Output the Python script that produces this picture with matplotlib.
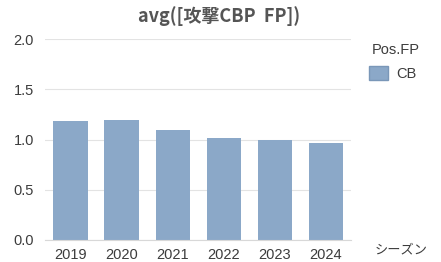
import matplotlib
matplotlib.use("Agg")
import matplotlib.pyplot as plt
from matplotlib.patches import Patch

plt.rcParams['font.family'] = ['Noto Sans CJK JP', 'DejaVu Sans']

# data
seasons = ['2019', '2020', '2021', '2022', '2023', '2024']
avg_cbp_fp = [1.18, 1.19, 1.09, 1.02, 1.00, 0.97]
y_ticks = [0.0, 0.5, 1.0, 1.5, 2.0]

bar_color = '#8BA8C8'
text_color = '#3C3C3C'
latin = 'Liberation Sans'

fig = plt.figure(figsize=(4.41, 2.62), dpi=100)
ax = fig.add_axes([0.102, 0.084, 0.695, 0.767])

x = range(len(seasons))
ax.bar(x, avg_cbp_fp, width=0.67, color=bar_color, zorder=2)

ax.set_xlim(-0.5, len(seasons) - 0.5)
ax.set_ylim(0, 2.0)
ax.set_xticks(list(x))
ax.set_xticklabels(seasons, fontfamily=latin, fontsize=10.5)
ax.set_yticks(y_ticks)
ax.set_yticklabels([f'{v:.1f}' for v in y_ticks], fontfamily=latin, fontsize=10.5)
ax.tick_params(length=0, colors=text_color)
ax.tick_params(axis='y', pad=8)
ax.tick_params(axis='x', pad=6)

ax.grid(axis='y', color='#E3E3E3', linewidth=0.8, zorder=0)
for side in ['top', 'right', 'left']:
    ax.spines[side].set_visible(False)
ax.spines['bottom'].set_color('#D8D8D8')
ax.spines['bottom'].set_linewidth(0.8)

fig.text(0.497, 0.94, 'avg([攻撃CBP  FP])', ha='center', va='center',
         fontsize=13, fontweight='bold', color='#555555')
fig.text(0.85, 0.045, 'シーズン', ha='left', va='center', fontsize=9.5,
         color=text_color)

# legend title as its own text, legend entry below it
fig.text(372 / 441, 1 - 50 / 262, 'Pos.FP', ha='left', va='center',
         fontfamily=latin, fontsize=10.5, color=text_color)
leg = fig.legend(handles=[Patch(facecolor=bar_color, edgecolor='#7A97B8')],
                 labels=['CB'], loc='upper left',
                 bbox_to_anchor=(369 / 441, 1 - 66 / 262), frameon=False,
                 prop={'family': latin, 'size': 10.5},
                 handlelength=1.3, handleheight=1.15,
                 handletextpad=0.6, borderaxespad=0, borderpad=0)
for t in leg.get_texts():
    t.set_color(text_color)

fig.savefig('out.png', dpi=100)
